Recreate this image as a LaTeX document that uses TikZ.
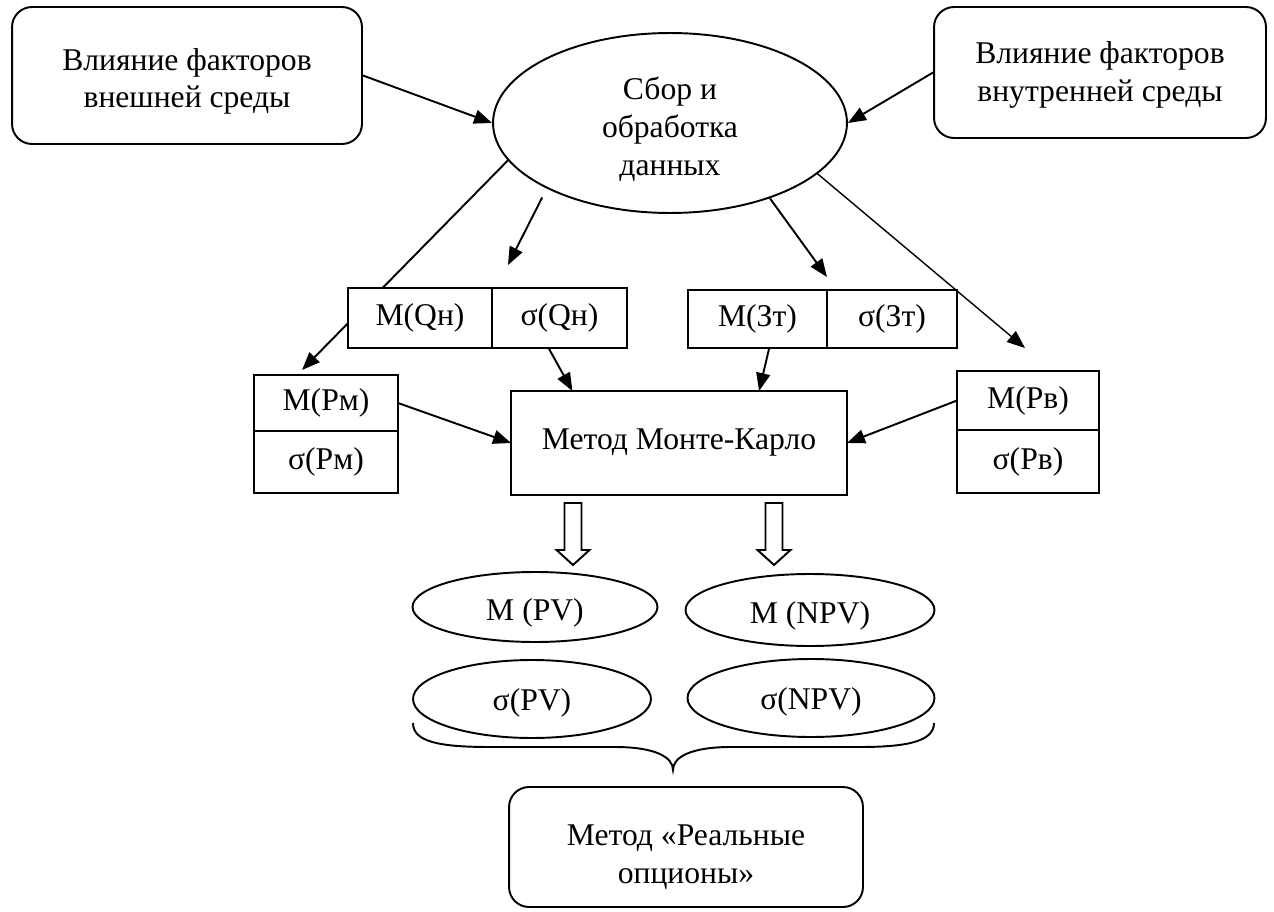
\documentclass[tikz,border=0pt]{standalone}
\usepackage{fontspec}
\setmainfont{Liberation Serif}
\usepackage{tikz}
\usetikzlibrary{positioning,arrows.meta,calc,shapes.geometric,backgrounds}

\begin{document}
\begin{tikzpicture}[
	x=0.02cm,y=-0.02cm,
	node distance=0pt,
	rbox/.style={
		draw,
		rounded corners=0.4cm,
		line width=1.1pt,
		inner sep=0pt,
		align=center,
		font=\fontsize{18}{21.6}\selectfont
	},
	cell/.style={draw,fill=white,line width=1.1pt,inner sep=0pt,outer sep=0pt,font=\fontsize{18}{21.6}\selectfont},
	oval/.style={draw,ellipse,line width=1.1pt,inner sep=0pt,align=center,font=\fontsize{18}{21.6}\selectfont},
	arrow/.style={-{Triangle[length=0.36cm,width=0.28cm]},line width=1.1pt},
	hollow/.style={draw,fill=white,line width=1.1pt}
	]
	\useasboundingbox (0,0) rectangle (1274,912);
	
	% top row
	\node[rbox,minimum width=7cm,minimum height=2.74cm] (ext) at (187,75.5)
	{\rule{0pt}{19.2pt}Влияние факторов\\ внешней среды};
	
	\node[rbox,minimum width=6.64cm,minimum height=2.62cm] (int) at (1100,72.5)
	{\rule{0pt}{15.8pt}Влияние факторов\\ внутренней среды};
	
	\node[oval,minimum width=7.08cm,minimum height=3.6cm] (data) at (670,123)
	{\rule{0pt}{20.4pt}Сбор и\\ обработка\\ данных};
	
	% parameter cells
	\node[cell,minimum width=2.88cm,minimum height=1.2cm] (mq) at (420,318) {М(Qн)};
	\node[cell,minimum width=2.7cm,minimum height=1.2cm,right=of mq] (sq) {σ(Qн)};
	
	\node[cell,minimum width=2.78cm,minimum height=1.16cm] (mz) at (757.5,319) {М(Зт)};
	\node[cell,minimum width=2.6cm,minimum height=1.16cm,right=of mz] (sz) {σ(Зт)};
	
	\node[cell,minimum width=2.88cm,minimum height=1.12cm] (mrm) at (326,403) {М(Рм)};
	\node[cell,minimum width=2.88cm,minimum height=1.24cm,below=of mrm] (srm) {σ(Рм)};
	
	\node[cell,minimum width=2.84cm,minimum height=1.18cm] (mrv) at (1028,400.5) {М(Рв)};
	\node[cell,minimum width=2.84cm,minimum height=1.26cm,below=of mrv] (srv) {σ(Рв)};
	
	\node[cell,minimum width=6.72cm,minimum height=2.08cm] (mc) at (679,443) {Метод Монте-Карло};
	
	% results
	\node[oval,minimum width=4.9cm,minimum height=1.4cm] (mpv) at (535,607) {\rule{0pt}{19.2pt}M (PV)};
	\node[oval,minimum width=4.98cm,minimum height=1.44cm] (mnpv) at (810,610) {\rule{0pt}{19.2pt}M (NPV)};
	\node[oval,minimum width=4.76cm,minimum height=1.56cm] (spv) at (532,699) {\rule{0pt}{17pt}σ(PV)};
	\node[oval,minimum width=4.94cm,minimum height=1.56cm] (snpv) at (811,698) {\rule{0pt}{17pt}σ(NPV)};
	
	\node[rbox,minimum width=7.08cm,minimum height=2.4cm] (ro) at (686,847)
	{\rule{0pt}{23.2pt}Метод «Реальные\\ опционы»};
	
	% arrows
	\draw[arrow] (ext.east) -- (data.west);
	\draw[arrow] (int.west) -- (data.east);
	\begin{scope}[on background layer]
		\draw[arrow] (data.193) -- ($(mrm.north)+(-24,-5)$);
	\end{scope}
	\draw[arrow,shorten <=0.2cm] (data.208) -- ($(sq.north west)+(16,-23)$);
	\draw[arrow] (data.323) -- ($(sz.north west)+(0,-13)$);
	\draw[arrow,line width=0.8pt] (data.341) -- ($(mrv.north)+(-3,-23)$);
	
	\draw[arrow] (sq.250) -- (mc.154);
	\draw[arrow] (mz.292) -- (mc.33);
	\draw[arrow] (mrm.east) -- (mc.west);
	\draw[arrow] (mrv.west) -- (mc.east);
	
	\foreach \dx in {-106,95}
	\draw[hollow] ($(mc.south)+(\dx-8.5,8)$) -- ++(0,47) -- ++(-8,0) -- ++(16.5,15)
	-- ++(16.5,-15) -- ++(-8,0) -- ++(0,-47) -- cycle;
	
	% brace
	\draw[line width=1.1pt] (413,723) .. controls (413,742) and (440,747) .. (490,747) -- (615,747)
	.. controls (655,747) and (673,757) .. (673,770)
	.. controls (673,757) and (691,747) .. (731,747) -- (860,747)
	.. controls (905,747) and (934,742) .. (934,723);
	
\end{tikzpicture}
\end{document}
